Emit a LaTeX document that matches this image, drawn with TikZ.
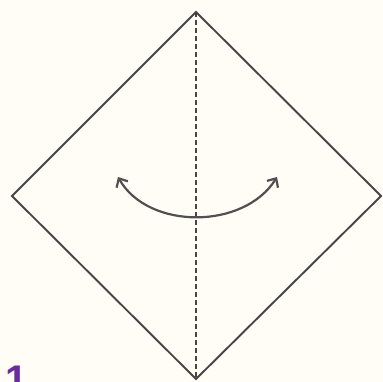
\documentclass[tikz,border=0pt]{standalone}
\usepackage{fontspec}
\setsansfont{Liberation Sans}
\usetikzlibrary{arrows.meta}
\definecolor{paper}{HTML}{FFFDF6}
\definecolor{ink}{HTML}{454545}
\definecolor{arrowink}{HTML}{505050}
\definecolor{numpurple}{HTML}{6B2A9E}
\tikzset{
  edge/.style={draw=ink, line width=1.9pt, line join=miter},
  foldline/.style={draw=ink, line width=1.8pt, dash pattern=on 5pt off 3pt},
  turnarrow/.style={draw=arrowink, line width=2.2pt, {Straight Barb[length=7pt,width=13pt]}-{Straight Barb[length=7pt,width=13pt]}},
  stepnum/.style={text=numpurple, font=\sffamily\bfseries\fontsize{40}{40}\selectfont, inner sep=0pt}
}
\begin{document}
\begin{tikzpicture}[x=1pt,y=-1pt]
\fill[paper] (0,0) rectangle (383,382);
\useasboundingbox (0,0) rectangle (383,382);
\clip (0,0) rectangle (383,382);
\coordinate (top) at (196,12);
\coordinate (right) at (381,196);
\coordinate (bottom) at (196,379);
\coordinate (left) at (12,196);
\draw[edge] (top) -- (right) -- (bottom) -- (left) -- cycle;
\draw[foldline] (top) -- (bottom);
\coordinate (aL) at (118,177);
\coordinate (aR) at (277,177);
\draw[turnarrow] (aL) .. controls (148,230) and (244,230) .. (aR);
\node[stepnum, anchor=north west] (num) at (5,366) {1};
\end{tikzpicture}
\end{document}
